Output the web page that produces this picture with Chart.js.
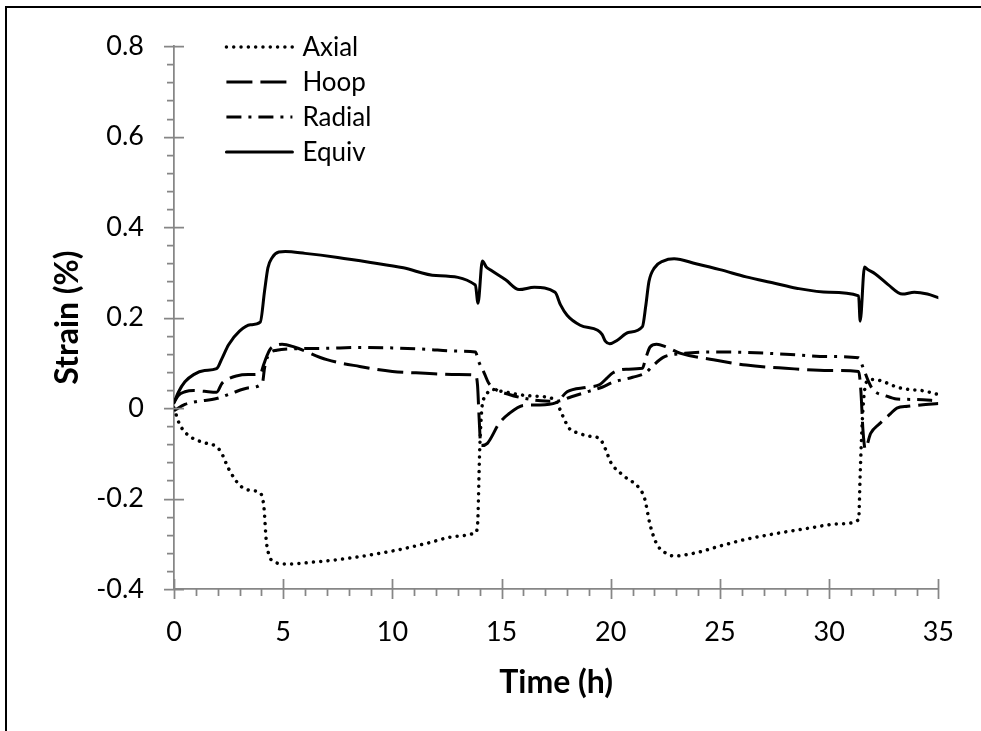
<!DOCTYPE html>
<html>
<head>
<meta charset="utf-8">
<script src="https://cdn.jsdelivr.net/npm/chart.js@4/dist/chart.umd.min.js"></script>
<style>
  html, body { margin: 0; padding: 0; background: #fff; }
  #wrap { position: relative; width: 981px; height: 731px; overflow: hidden; }
  #chart { position: absolute; left: 0; top: 0; }
  #frame { position: absolute; left: 5px; top: 6px; right: -4px; bottom: -4px;
           border-top: 2px solid #000; border-left: 2px solid #000; pointer-events: none; }
</style>
</head>
<body>
<div id="wrap">
  <canvas id="chart" width="981" height="731"></canvas>
  <div id="frame"></div>
</div>
<script>
// values
const xTicks = [0, 5, 10, 15, 20, 25, 30, 35]
const yTicks = [-0.4, -0.2, 0, 0.2, 0.4, 0.6, 0.8]

const axialT = [0, 0.25, 0.6, 1.0, 1.5, 1.9, 2.15, 2.5, 3.0, 3.5, 3.95, 4.12, 4.22, 4.35, 4.6, 5.1, 6.5, 8, 10, 11.5, 13, 13.8, 13.9, 14.0, 14.1, 14.25, 14.6, 15.0, 16.3, 17.45, 17.75, 18.1, 18.5, 19.0, 19.5, 19.75, 20.0, 20.6, 21.3, 21.55, 21.8, 22.1, 22.5, 22.9, 23.9, 25, 26.2, 27.5, 29, 30.5, 31.35, 31.42, 31.5, 31.6, 31.75, 31.95, 32.4, 32.8, 33.2, 33.7, 34.2, 34.6, 35]
const axialV = [0, -0.035, -0.058, -0.07, -0.078, -0.084, -0.097, -0.134, -0.170, -0.182, -0.188, -0.22, -0.29, -0.325, -0.340, -0.345, -0.340, -0.332, -0.316, -0.300, -0.283, -0.276, -0.258, -0.09, 0.0, 0.025, 0.041, 0.037, 0.027, 0.019, -0.012, -0.045, -0.055, -0.062, -0.068, -0.09, -0.12, -0.150, -0.177, -0.20, -0.258, -0.300, -0.320, -0.327, -0.320, -0.305, -0.290, -0.278, -0.266, -0.256, -0.247, -0.148, -0.046, 0.030, 0.060, 0.063, 0.060, 0.052, 0.045, 0.041, 0.039, 0.035, 0.030]

const hoopT = [0, 0.2, 0.5, 0.9, 1.4, 1.95, 2.2, 2.5, 2.85, 3.4, 3.95, 4.1, 4.25, 4.4, 4.6, 4.95, 5.5, 7, 8.5, 10, 11.5, 13, 13.8, 13.9, 13.97, 14.05, 14.35, 14.9, 15.3, 16.0, 16.7, 17.5, 18.0, 18.9, 19.5, 19.8, 20.1, 20.7, 21.45, 21.6, 21.8, 22.1, 22.5, 23.2, 24.7, 26.2, 28, 30, 31.35, 31.45, 31.55, 31.65, 31.9, 32.3, 32.8, 33.1, 33.6, 34.2, 35]
const hoopV = [0.012, 0.028, 0.036, 0.039, 0.037, 0.035, 0.055, 0.065, 0.071, 0.074, 0.075, 0.095, 0.115, 0.130, 0.137, 0.141, 0.135, 0.107, 0.092, 0.081, 0.077, 0.074, 0.073, 0.05, -0.02, -0.083, -0.078, -0.033, -0.014, 0.006, 0.007, 0.012, 0.036, 0.046, 0.052, 0.065, 0.078, 0.086, 0.088, 0.11, 0.135, 0.141, 0.136, 0.121, 0.107, 0.095, 0.088, 0.083, 0.081, 0.04, -0.05, -0.09, -0.056, -0.035, -0.013, 0.0, 0.004, 0.007, 0.01]

const radialT = [0, 0.5, 1.0, 1.95, 2.6, 3.45, 4.05, 4.15, 4.3, 4.7, 5.5, 7, 8.5, 10, 11.5, 13, 13.8, 13.95, 14.2, 14.4, 14.7, 15.35, 15.9, 16.8, 17.5, 18.2, 19.0, 19.6, 20.1, 21.0, 21.6, 21.9, 22.4, 23.4, 24.5, 26.2, 28, 30, 31.35, 31.55, 31.8, 32.0, 32.6, 33.1, 34.0, 35]
const radialV = [-0.006, 0.008, 0.014, 0.021, 0.032, 0.045, 0.056, 0.09, 0.115, 0.128, 0.131, 0.132, 0.134, 0.133, 0.13, 0.126, 0.124, 0.103, 0.078, 0.056, 0.042, 0.030, 0.023, 0.016, 0.015, 0.025, 0.037, 0.046, 0.057, 0.068, 0.078, 0.092, 0.112, 0.121, 0.124, 0.123, 0.119, 0.114, 0.111, 0.09, 0.059, 0.041, 0.027, 0.020, 0.019, 0.016]

const equivT = [0, 0.2, 0.5, 0.9, 1.4, 1.95, 2.2, 2.5, 3.0, 3.5, 3.95, 4.15, 4.3, 4.5, 4.8, 5.1, 6, 7.5, 9, 10.5, 12, 13.8, 13.92, 14.12, 14.3, 14.5, 15.2, 15.8, 16.5, 17.45, 17.7, 18.0, 18.6, 19.4, 19.6, 19.75, 19.95, 20.3, 20.8, 21.45, 21.6, 21.75, 22.0, 22.4, 22.9, 23.9, 25, 26.2, 27.5, 28.5, 30, 31.35, 31.42, 31.62, 31.75, 32.1, 32.7, 33.35, 33.9, 34.5, 35]
const equivV = [0.012, 0.035, 0.058, 0.074, 0.083, 0.087, 0.11, 0.14, 0.170, 0.184, 0.190, 0.26, 0.31, 0.333, 0.345, 0.346, 0.342, 0.333, 0.322, 0.31, 0.293, 0.272, 0.232, 0.325, 0.312, 0.305, 0.283, 0.262, 0.267, 0.256, 0.228, 0.205, 0.183, 0.172, 0.163, 0.148, 0.142, 0.15, 0.167, 0.18, 0.225, 0.28, 0.31, 0.325, 0.33, 0.319, 0.306, 0.29, 0.276, 0.265, 0.256, 0.248, 0.192, 0.312, 0.307, 0.297, 0.273, 0.252, 0.256, 0.252, 0.244]

const FONT = 'Lato, "Open Sans", sans-serif'
const AXIS_GREY = '#868686'

function points(ts, vs) {
    return ts.map((t, i) => ({x: t, y: vs[i]}))
}

function series(label, ts, vs, dash, cap, width) {
    return {
        label: label,
        data: points(ts, vs),
        borderColor: '#000',
        borderWidth: width,
        borderDash: dash,
        borderCapStyle: cap,
        fill: false,
        pointRadius: 0,
        cubicInterpolationMode: 'monotone'
    }
}

// minor + major tick marks like the original (major ones cross the axis)
const tickMarks = {
    id: 'tickMarks',
    afterDraw(chart) {
        const {ctx, chartArea, scales} = chart
        const left = chartArea.left, bottom = chartArea.bottom
        ctx.save()
        ctx.strokeStyle = AXIS_GREY
        ctx.lineWidth = 1.75
        ctx.beginPath()
        for (let i = 0; i <= 30; i++) {
            const py = Math.round(scales.y.getPixelForValue(-0.4 + i * 0.04)) + 0.5
            const major = i % 5 === 0
            ctx.moveTo(left - (major ? 10 : 7), py)
            ctx.lineTo(major ? left + 10 : left, py)
        }
        for (let t = 0; t <= 35; t++) {
            const px = Math.round(scales.x.getPixelForValue(t)) + 0.5
            const major = t % 5 === 0
            ctx.moveTo(px, major ? bottom - 10 : bottom)
            ctx.lineTo(px, bottom + (major ? 10 : 7))
        }
        ctx.stroke()
        ctx.restore()
    }
}

// legend drawn inside the plot, top left
const insideLegend = {
    id: 'insideLegend',
    afterDraw(chart) {
        const ctx = chart.ctx
        const x0 = chart.scales.x.getPixelForValue(2.4)
        ctx.save()
        chart.data.datasets.forEach((ds, i) => {
            const y = 47 + i * 35
            ctx.strokeStyle = ds.borderColor
            ctx.lineWidth = ds.borderWidth
            ctx.lineCap = ds.borderCapStyle
            ctx.setLineDash(ds.borderDash)
            ctx.beginPath()
            ctx.moveTo(x0, y)
            ctx.lineTo(x0 + 66, y)
            ctx.stroke()
            ctx.setLineDash([])
            ctx.fillStyle = '#000'
            ctx.font = '26px ' + FONT
            ctx.textBaseline = 'middle'
            ctx.textAlign = 'left'
            ctx.fillText(ds.label, x0 + 76, y + 1)
        })
        ctx.restore()
    }
}

new Chart(document.getElementById('chart'), {
    type: 'line',
    data: {
        datasets: [
            series('Axial', axialT, axialV, [0.01, 7.3], 'round', 3.5),
            series('Hoop', hoopT, hoopV, [26, 8], 'butt', 3),
            series('Radial', radialT, radialV, [15, 7, 3, 7], 'butt', 3),
            series('Equiv', equivT, equivV, [], 'round', 3)
        ]
    },
    options: {
        responsive: false,
        animation: false,
        layout: {padding: {left: 0, top: 39, right: 37, bottom: 0}},
        plugins: {legend: {display: false}, tooltip: {enabled: false}},
        scales: {
            x: {
                type: 'linear',
                min: 0,
                max: 35,
                afterBuildTicks: s => { s.ticks = xTicks.map(v => ({value: v})) },
                afterFit: s => { s.height = 142 },
                grid: {display: false, drawTicks: false},
                border: {display: true, color: AXIS_GREY, width: 1.75},
                ticks: {color: '#000', font: {family: FONT, size: 27}, padding: 27, maxRotation: 0},
                title: {display: true, text: 'Time (h)', color: '#000',
                        font: {family: FONT, size: 32, weight: 'bold'}, padding: {top: 0, bottom: 29}}
            },
            y: {
                type: 'linear',
                min: -0.4,
                max: 0.8,
                afterBuildTicks: s => { s.ticks = yTicks.map(v => ({value: v})) },
                afterFit: s => { s.width = 174 },
                grid: {display: false, drawTicks: false},
                border: {display: true, color: AXIS_GREY, width: 1.75},
                ticks: {
                    color: '#000', font: {family: FONT, size: 27}, padding: 30,
                    callback: v => Math.abs(v) < 1e-9 ? '0' : String(Math.round(v * 10) / 10)
                },
                title: {display: true, text: 'Strain (%)', color: '#000',
                        font: {family: FONT, size: 32, weight: 'bold'}, padding: {top: 48, bottom: 0}}
            }
        }
    },
    plugins: [tickMarks, insideLegend]
})
</script>
</body>
</html>
